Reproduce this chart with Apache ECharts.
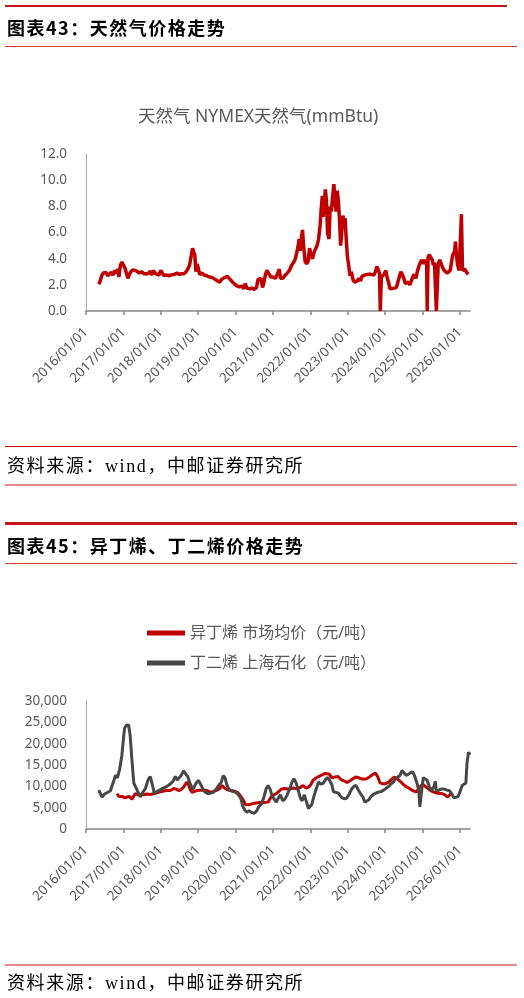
<!DOCTYPE html>
<html>
<head>
<meta charset="utf-8">
<script src="https://cdn.jsdelivr.net/npm/echarts@6/dist/echarts.min.js"></script>
<style>
  html, body { margin: 0; padding: 0; background: #fff; }
  #page { position: relative; width: 524px; height: 998px; overflow: hidden; }
  #chart { position: absolute; left: 0; top: 0; width: 524px; height: 998px; }
  .rule { position: absolute; left: 5px; width: 512px; }
  .head { position: absolute; left: 7px; font-family: "Noto Sans CJK SC", sans-serif; font-weight: 700;
          font-size: 18px; line-height: 20px; letter-spacing: 1.5px; color: #000; }
  .src { position: absolute; left: 7px; font-family: "Liberation Serif", "Noto Sans CJK SC", serif;
         font-size: 18px; line-height: 20px; letter-spacing: 1.6px; color: #000; }
</style>
</head>
<body>
<div id="page">
  <div id="chart"></div>

  <div class="rule" style="top:5px;height:2px;width:502px;background:#c8161d"></div>
  <div class="head" style="top:17px">图表43：天然气价格走势</div>
  <div class="rule" style="top:46px;height:1px;background:#d33"></div>
  <div class="rule" style="top:446px;height:1px;background:#c00"></div>
  <div class="src" style="top:456px">资料来源：wind，中邮证券研究所</div>
  <div class="rule" style="top:484px;height:2px;background:#e58a8a"></div>

  <div class="rule" style="top:522px;height:3px;background:#c8161d"></div>
  <div class="head" style="top:535px">图表45：异丁烯、丁二烯价格走势</div>
  <div class="rule" style="top:563px;height:1px;background:#d33"></div>
  <div class="rule" style="top:964px;height:2px;background:#e58a8a"></div>
  <div class="src" style="top:973px">资料来源：wind，中邮证券研究所</div>
</div>

<script>
// x values are fractional years
const yearTicks = [2016, 2017, 2018, 2019, 2020, 2021, 2022, 2023, 2024, 2025, 2026]

// 天然气 NYMEX (mmBtu)
const gasYear = [
  2016.34, 2016.38, 2016.42, 2016.46, 2016.5, 2016.54, 2016.58, 2016.63, 2016.68, 2016.72,
  2016.77, 2016.81, 2016.85, 2016.88, 2016.92, 2016.96, 2017.0, 2017.04, 2017.08, 2017.12,
  2017.16, 2017.2, 2017.26, 2017.3, 2017.36, 2017.42, 2017.48, 2017.55, 2017.6, 2017.66,
  2017.72, 2017.76, 2017.8, 2017.86, 2017.9, 2017.95, 2018.0, 2018.04, 2018.08, 2018.14,
  2018.2, 2018.28, 2018.36, 2018.44, 2018.5, 2018.56, 2018.62, 2018.68, 2018.72, 2018.77,
  2018.82, 2018.85, 2018.88, 2018.91, 2018.94, 2018.97, 2019.0, 2019.04, 2019.1, 2019.16,
  2019.22, 2019.3, 2019.38, 2019.46, 2019.52, 2019.58, 2019.62, 2019.66, 2019.7, 2019.74,
  2019.78, 2019.82, 2019.86, 2019.92, 2019.98, 2020.04, 2020.1, 2020.14, 2020.18, 2020.22,
  2020.26, 2020.3, 2020.34, 2020.38, 2020.44, 2020.5, 2020.56, 2020.6, 2020.64, 2020.68,
  2020.72, 2020.76, 2020.8, 2020.84, 2020.88, 2020.94, 2021.0, 2021.06, 2021.1, 2021.14,
  2021.17, 2021.2, 2021.26, 2021.32, 2021.38, 2021.44, 2021.5, 2021.55, 2021.6, 2021.64,
  2021.67, 2021.7, 2021.73, 2021.76, 2021.79, 2021.82, 2021.86, 2021.9, 2021.94, 2021.98,
  2022.02, 2022.06, 2022.1, 2022.14, 2022.18, 2022.22, 2022.26, 2022.29, 2022.32, 2022.34,
  2022.37, 2022.4, 2022.43, 2022.46, 2022.5, 2022.53, 2022.56, 2022.59, 2022.63, 2022.66,
  2022.69, 2022.72, 2022.75, 2022.78, 2022.81, 2022.84, 2022.87, 2022.9, 2022.93, 2022.96,
  2022.99, 2023.02, 2023.06, 2023.1, 2023.14, 2023.18, 2023.22, 2023.26, 2023.3, 2023.34,
  2023.38, 2023.42, 2023.46, 2023.5, 2023.54, 2023.58, 2023.62, 2023.66, 2023.7, 2023.74,
  2023.78, 2023.82, 2023.85, 2023.87, 2023.89, 2023.9, 2023.93, 2023.97, 2024.02, 2024.05,
  2024.09, 2024.13, 2024.18, 2024.24, 2024.3, 2024.34, 2024.38, 2024.42, 2024.46, 2024.5,
  2024.54, 2024.58, 2024.62, 2024.66, 2024.7, 2024.74, 2024.78, 2024.82, 2024.86, 2024.9,
  2024.94, 2024.98, 2025.02, 2025.06, 2025.11, 2025.125, 2025.14, 2025.15, 2025.18, 2025.22,
  2025.26, 2025.29, 2025.32, 2025.355, 2025.37, 2025.385, 2025.42, 2025.46, 2025.5, 2025.54,
  2025.58, 2025.62, 2025.66, 2025.7, 2025.74, 2025.77, 2025.8, 2025.83, 2025.86, 2025.88,
  2025.91, 2025.94, 2025.98, 2026.01, 2026.04, 2026.055, 2026.07, 2026.1, 2026.13, 2026.17,
  2026.22
]
const gasPrice = [
  2.05, 2.3, 2.7, 2.9, 2.75, 2.95, 2.7, 2.85, 2.95, 2.75,
  3.1, 2.9, 3.2, 2.6, 3.5, 3.75, 3.5, 3.3, 3.2, 2.5,
  2.8, 3.0, 3.15, 3.25, 3.05, 2.9, 3.0, 2.85, 2.95, 2.85,
  3.05, 2.75, 3.1, 2.85, 3.0, 2.75, 3.1, 3.0, 2.7, 2.75,
  2.7, 2.75, 2.8, 2.9, 2.8, 2.85, 2.85, 3.0, 3.2, 3.5,
  3.6, 4.8, 4.5, 4.3, 3.0, 3.6, 3.3, 2.8, 2.9, 2.75,
  2.7, 2.6, 2.55, 2.4, 2.3, 2.2, 2.4, 2.3, 2.55, 2.4,
  2.65, 2.6, 2.4, 2.2, 2.05, 1.9, 1.85, 1.75, 1.9, 1.7,
  2.1, 1.75, 1.8, 1.7, 1.75, 1.65, 1.8, 2.4, 2.3, 2.5,
  1.8, 2.2, 2.8, 3.1, 2.9, 2.6, 2.6, 2.5, 2.7, 2.55,
  3.2, 2.5, 2.5, 2.7, 2.9, 3.1, 3.5, 3.7, 4.0, 4.1,
  4.9, 5.5, 4.6, 5.6, 6.2, 5.0, 3.8, 3.6, 3.8, 4.8,
  4.2, 4.0, 4.5, 4.6, 5.0, 5.5, 6.5, 7.8, 8.8, 7.2,
  8.0, 9.3, 8.5, 6.0, 5.5, 8.0, 7.6, 8.6, 9.7, 8.2,
  7.6, 9.2, 8.4, 7.0, 5.0, 6.0, 7.3, 6.8, 7.1, 5.5,
  4.2, 3.6, 2.7, 3.0, 2.4, 2.2, 2.1, 2.3, 2.5, 2.3,
  2.65, 2.55, 2.75, 2.6, 2.8, 2.65, 2.8, 2.9, 2.75, 3.0,
  3.4, 3.5, 2.9, 0.0, 0.0, 2.6, 2.5, 2.8, 3.1, 2.6,
  2.2, 1.7, 1.6, 1.75, 1.8, 2.2, 2.6, 3.0, 2.8, 2.5,
  2.1, 2.0, 2.2, 2.0, 2.3, 2.6, 2.8, 2.5, 3.0, 3.4,
  3.7, 3.9, 3.6, 3.9, 3.6, 0.0, 0.0, 4.1, 4.3, 4.2,
  3.9, 3.5, 3.7, 3.6, 0.0, 0.0, 3.6, 3.9, 3.6, 3.3,
  3.1, 3.0, 2.9, 2.95, 3.1, 3.6, 4.2, 4.1, 4.6, 5.3,
  4.2, 3.5, 3.1, 3.0, 7.4, 7.4, 3.1, 3.0, 3.2, 3.0,
  2.8
]

// 异丁烯 市场均价（元/吨）
const ibYear = [
  2016.83, 2016.88, 2016.92, 2016.98, 2017.04, 2017.1, 2017.16, 2017.23, 2017.28, 2017.32,
  2017.39, 2017.46, 2017.54, 2017.63, 2017.72, 2017.81, 2017.9, 2017.99, 2018.08, 2018.17,
  2018.26, 2018.35, 2018.42, 2018.48, 2018.55, 2018.61, 2018.66, 2018.7, 2018.74, 2018.79,
  2018.84, 2018.92, 2019.02, 2019.12, 2019.24, 2019.33, 2019.42, 2019.5, 2019.58, 2019.64,
  2019.7, 2019.78, 2019.86, 2019.95, 2020.05, 2020.13, 2020.2, 2020.27, 2020.35, 2020.45,
  2020.55, 2020.65, 2020.75, 2020.87, 2020.95, 2021.02, 2021.09, 2021.16, 2021.23, 2021.32,
  2021.42, 2021.54, 2021.64, 2021.72, 2021.81, 2021.88, 2021.95, 2022.02, 2022.07, 2022.14,
  2022.22, 2022.3, 2022.38, 2022.43, 2022.5, 2022.58, 2022.66, 2022.74, 2022.82, 2022.9,
  2022.98, 2023.06, 2023.14, 2023.22, 2023.3, 2023.38, 2023.49, 2023.58, 2023.66, 2023.74,
  2023.8, 2023.86, 2023.92, 2024.0, 2024.08, 2024.16, 2024.24, 2024.32, 2024.4, 2024.47,
  2024.55, 2024.63, 2024.7, 2024.76, 2024.84, 2024.92, 2025.0, 2025.07, 2025.15, 2025.22,
  2025.29, 2025.36, 2025.44, 2025.52, 2025.6, 2025.67, 2025.73, 2025.76
]
const ibPrice = [
  8300, 7600, 7300, 7600, 7300, 7500, 7600, 7000, 7200, 8300,
  8000, 8100, 8000, 8200, 8100, 8300, 8500, 8700, 8900, 9100,
  9000, 9500, 9300, 9000, 9300, 9800, 10000, 11000, 10500, 9200,
  8600, 8900, 9100, 9100, 9000, 8600, 8800, 9100, 9500, 10200,
  9600, 9200, 9000, 8900, 8600, 7800, 6900, 5700, 5700, 5900,
  6100, 6200, 6200, 6300, 7500, 8000, 8300, 8800, 9400, 9500,
  9300, 9600, 9400, 9700, 10200, 9600, 9800, 10500, 11400, 11900,
  12300, 12600, 13000, 13200, 12900, 12000, 12200, 12300, 11600, 11300,
  10900, 11300, 11800, 12200, 12000, 11700, 11700, 12200, 12700, 13100,
  12300, 10900, 10600, 10600, 10900, 11500, 12200, 11800, 11200, 10600,
  10000, 9600, 9200, 8900, 8700, 9800, 10500, 10000, 9500, 9000,
  8700, 8500, 8300, 8300, 8000, 7500, 8000, 8300
]

// 丁二烯 上海石化（元/吨）
const bdYear = [
  2016.34, 2016.43, 2016.5, 2016.56, 2016.65, 2016.7, 2016.75, 2016.79, 2016.84, 2016.9,
  2016.96, 2017.0, 2017.03, 2017.08, 2017.14, 2017.18, 2017.23, 2017.28, 2017.33, 2017.38,
  2017.45, 2017.52, 2017.59, 2017.66, 2017.72, 2017.77, 2017.83, 2017.9, 2017.98, 2018.05,
  2018.12, 2018.2, 2018.27, 2018.33, 2018.39, 2018.44, 2018.48, 2018.54, 2018.61, 2018.66,
  2018.72, 2018.79, 2018.86, 2018.93, 2019.0, 2019.06, 2019.12, 2019.18, 2019.26, 2019.33,
  2019.4, 2019.47, 2019.55, 2019.62, 2019.67, 2019.72, 2019.76, 2019.82, 2019.9, 2019.98,
  2020.06, 2020.14, 2020.2, 2020.25, 2020.3, 2020.36, 2020.42, 2020.5, 2020.56, 2020.62,
  2020.7, 2020.76, 2020.82, 2020.87, 2020.92, 2020.97, 2021.03, 2021.09, 2021.14, 2021.2,
  2021.26, 2021.32, 2021.38, 2021.44, 2021.5, 2021.56, 2021.62, 2021.68, 2021.73, 2021.78,
  2021.84, 2021.9, 2021.95, 2021.99, 2022.04, 2022.1, 2022.16, 2022.22, 2022.28, 2022.34,
  2022.4, 2022.47, 2022.52, 2022.57, 2022.62, 2022.68, 2022.75, 2022.82, 2022.9, 2022.97,
  2023.04, 2023.1, 2023.16, 2023.22, 2023.28, 2023.34, 2023.4, 2023.46, 2023.5, 2023.56,
  2023.62, 2023.7, 2023.78, 2023.84, 2023.9, 2023.96, 2024.03, 2024.1, 2024.16, 2024.22,
  2024.28, 2024.34, 2024.4, 2024.45, 2024.5, 2024.56, 2024.62, 2024.68, 2024.74, 2024.8,
  2024.86, 2024.9, 2024.93, 2024.97, 2025.02, 2025.06, 2025.12, 2025.18, 2025.23, 2025.27,
  2025.31, 2025.34, 2025.37, 2025.42, 2025.48, 2025.54, 2025.6, 2025.66, 2025.72, 2025.78,
  2025.84, 2025.89, 2025.95, 2026.0, 2026.06, 2026.11, 2026.16, 2026.19, 2026.23, 2026.25,
  2026.27
]
const bdPrice = [
  9100, 7500, 8200, 8500, 8900, 9100, 11500, 12600, 12000, 14000,
  17300, 21000, 23600, 24300, 24400, 22000, 16000, 10700, 9800, 9900,
  7500, 8600, 9500, 11500, 12300, 10500, 8300, 8800, 9200, 9500,
  9800, 10200, 10700, 11200, 12300, 11500, 11400, 12500, 13600, 13200,
  12300, 10500, 9300, 10500, 11400, 10600, 9500, 8700, 8300, 8400,
  8600, 9200, 10200, 11000, 12500, 12000, 10500, 9300, 8900, 8700,
  8200, 7200, 5200, 4400, 3900, 4300, 3900, 3700, 4200, 5200,
  6000, 7500, 9500, 10200, 9400, 8000, 7000, 6300, 7200, 8000,
  6600, 7000, 8000, 9200, 10800, 11800, 10800, 9000, 7300, 6600,
  8000, 6200, 4800, 4400, 5800, 7800, 9500, 11000, 10500, 10700,
  11500, 12100, 12500, 10500, 8700, 8600, 8400, 7500, 7100, 7200,
  8200, 9300, 10000, 10200, 9200, 8300, 7600, 6300, 6000, 6800,
  7600, 8200, 8500, 8700, 8800, 9100, 9600, 10000, 10600, 11000,
  11800, 12200, 12600, 13700, 13400, 12600, 12800, 13200, 13400, 12200,
  10500, 9000, 5200, 8500, 12000, 12400, 11500, 10000, 9000, 8700,
  10000, 11200, 8800, 9200, 9300, 9400, 9300, 9100, 9000, 8300,
  7300, 7100, 7600, 8700, 10200, 10600, 10800, 15500, 18000, 18000,
  17400
]

const zip = (xs, ys) => xs.map((x, i) => [x, ys[i]])

const labelColor = '#595959'
const baseFont = '"Noto Sans", "Noto Sans CJK SC", sans-serif'

function makeXAxis(gridIndex) {
  return {
    type: 'value',
    gridIndex: gridIndex,
    min: 2016,
    max: 2026.27,
    axisLine: { lineStyle: { color: '#868686', width: 1.5 } },
    axisTick: {
      show: true,
      length: 4,
      customValues: yearTicks,
      lineStyle: { color: '#868686', width: 1.5 }
    },
    axisLabel: {
      customValues: yearTicks,
      rotate: 45,
      margin: 19,
      color: labelColor,
      fontSize: 13.5,
      fontFamily: baseFont,
      formatter: v => v + '/01/01'
    },
    splitLine: { show: false }
  }
}

function makeYAxis(gridIndex, max, interval, fmt) {
  return {
    type: 'value',
    gridIndex: gridIndex,
    min: 0,
    max: max,
    interval: interval,
    axisLine: { show: true, lineStyle: { color: '#a6a6a6', width: 1 } },
    axisTick: { show: false },
    axisLabel: { margin: 19, color: labelColor, fontSize: 13.5, fontFamily: baseFont, formatter: fmt },
    splitLine: { show: false }
  }
}

const chart = echarts.init(document.getElementById('chart'))

chart.setOption({
  backgroundColor: 'transparent',
  animation: false,
  title: {
    text: '天然气 NYMEX天然气(mmBtu)',
    left: 138,
    top: 108,
    padding: 0,
    textStyle: { color: labelColor, fontSize: 17.5, fontWeight: 'normal', fontFamily: baseFont }
  },
  legend: {
    orient: 'vertical',
    left: 147,
    top: 625,
    padding: 0,
    icon: 'rect',
    itemWidth: 38,
    itemHeight: 5,
    itemGap: 14,
    textStyle: { color: labelColor, fontSize: 16, fontFamily: baseFont },
    data: ['异丁烯 市场均价（元/吨）', '丁二烯 上海石化（元/吨）']
  },
  grid: [
    { left: 86, right: 54, top: 154, height: 157 },
    { left: 86, right: 54, top: 701, height: 128 }
  ],
  xAxis: [makeXAxis(0), makeXAxis(1)],
  yAxis: [
    makeYAxis(0, 12, 2, v => v.toFixed(1)),
    makeYAxis(1, 30000, 5000, v => v.toLocaleString('en-US'))
  ],
  series: [
    {
      name: '天然气 NYMEX天然气(mmBtu)',
      type: 'line',
      xAxisIndex: 0,
      yAxisIndex: 0,
      data: zip(gasYear, gasPrice),
      showSymbol: false,
      lineStyle: { color: '#c00000', width: 3.5 },
      itemStyle: { color: '#c00000' }
    },
    {
      name: '异丁烯 市场均价（元/吨）',
      type: 'line',
      xAxisIndex: 1,
      yAxisIndex: 1,
      data: zip(ibYear, ibPrice),
      showSymbol: false,
      lineStyle: { color: '#c00000', width: 3 },
      itemStyle: { color: '#c00000' }
    },
    {
      name: '丁二烯 上海石化（元/吨）',
      type: 'line',
      xAxisIndex: 1,
      yAxisIndex: 1,
      data: zip(bdYear, bdPrice),
      showSymbol: false,
      lineStyle: { color: '#474747', width: 3 },
      itemStyle: { color: '#474747' }
    }
  ]
})
</script>
</body>
</html>
